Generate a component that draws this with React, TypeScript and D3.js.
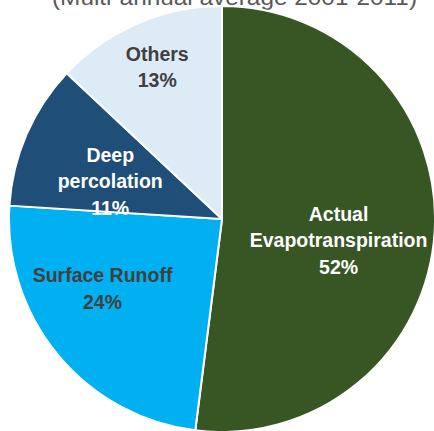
import React from "react";
import * as d3 from "d3";

const categories = ["Actual Evapotranspiration", "Surface Runoff", "Deep percolation", "Others"];
const values = [52, 24, 11, 13];
const labelLines = [["Actual", "Evapotranspiration", "52%"], ["Surface Runoff", "24%"], ["Deep", "percolation", "11%"], ["Others", "13%"]];
const titleText = "(Multi-annual average 2001-2011)";

const colors = ["#375623", "#00B0F0", "#1F4E79", "#DDEBF7"];
const textColors = ["#FFFFFF", "#404040", "#FFFFFF", "#404040"];
const labelOffsets: [number, number][] = [[-11, 13], [-21, -12], [5.5, 13], [-14, -34.5]];

const W = 434, H = 431;
const cx = 222, cy = 219, R = 213;

export default function App() {
  const pie = d3.pie<number>().sort(null).value((d) => d).startAngle(0).endAngle(2 * Math.PI);
  const arcs = pie(values);
  const arc = d3.arc<d3.PieArcDatum<number>>().innerRadius(0).outerRadius(R);
  const labelArc = d3.arc<d3.PieArcDatum<number>>().innerRadius(R * 0.6).outerRadius(R * 0.6);
  const lh = 26.5;
  return (
    <svg width={W} height={H} style={{ position: "absolute", left: 0, top: 0 }} fontFamily="'Liberation Sans', Arial, sans-serif">
      <text x={234.5} y={5} textAnchor="middle" fontSize={22} fill="#595959" textLength={365} lengthAdjust="spacingAndGlyphs">{titleText}</text>
      <g transform={`translate(${cx},${cy})`}>
        {arcs.map((a, i) => (
          <path key={categories[i]} d={arc(a) || ""} fill={colors[i]} stroke="#FFFFFF" strokeWidth={2} strokeLinejoin="round" />
        ))}
        {arcs.map((a, i) => {
          const [x, y] = labelArc.centroid(a);
          const lines = labelLines[i];
          const x0 = x + labelOffsets[i][0];
          const y0 = y + labelOffsets[i][1] - ((lines.length - 1) * lh) / 2;
          return (
            <text key={"l" + i} textAnchor="middle" fontSize={19.5} fontWeight="bold" fill={textColors[i]} dominantBaseline="central">
              {lines.map((t, j) => (
                <tspan key={j} x={x0} y={y0 + j * lh}>{t}</tspan>
              ))}
            </text>
          );
        })}
      </g>
    </svg>
  );
}
